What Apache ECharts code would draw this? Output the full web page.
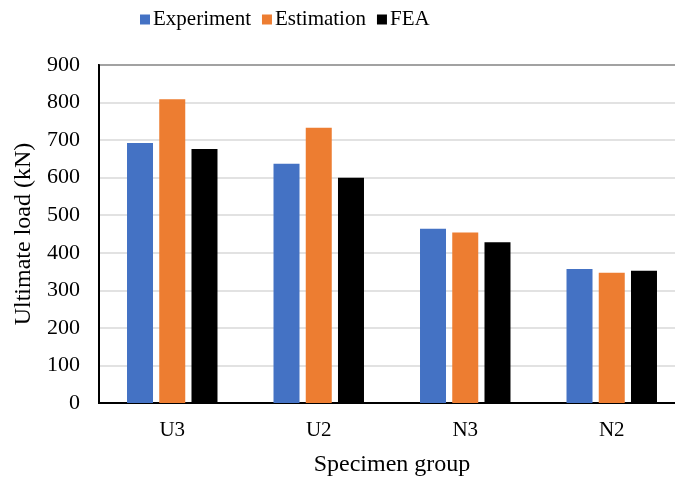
<!DOCTYPE html>
<html>
<head>
<meta charset="utf-8">
<script src="https://cdn.jsdelivr.net/npm/echarts@6/dist/echarts.min.js"></script>
<style>
  html, body { margin: 0; padding: 0; background: #fff; }
  #chart { width: 675px; height: 482px; }
</style>
</head>
<body>
<div id="chart"></div>
<script>
// Specimen groups and ultimate loads (kN)
const categories = ['U3', 'U2', 'N3', 'N2'];
const experiment = [692, 637, 464, 357];
const estimation = [809, 733, 454, 347];
const fea = [676, 600, 428, 352];
const seriesNames = ['Experiment', 'Estimation', 'FEA'];
const seriesColors = ['#4472C4', '#ED7D31', '#000000'];

const font = 'Liberation Serif, Times New Roman, serif';
const chart = echarts.init(document.getElementById('chart'));

const makeBar = (name, data, color) => ({
  name, type: 'bar', data,
  barWidth: 26, barGap: '24%',
  itemStyle: { color },
  emphasis: { disabled: true }
});

chart.setOption({
  animation: false,
  textStyle: { fontFamily: font },
  legend: {
    left: 135, top: 4,
    itemWidth: 10, itemHeight: 10, itemGap: 11,
    icon: 'rect',
    textStyle: { fontFamily: font, fontSize: 21, color: '#000', padding: [0, 0, 0, -2] },
    data: seriesNames
  },
  grid: {
    left: 99, top: 65, width: 586, height: 338,
    outerBoundsMode: 'none',
    show: true, borderColor: '#000', borderWidth: 2, containLabel: false
  },
  xAxis: {
    type: 'category', data: categories,
    name: 'Specimen group', nameLocation: 'middle', nameGap: 50,
    nameTextStyle: { fontFamily: font, fontSize: 24, color: '#000' },
    axisLine: { lineStyle: { color: '#000', width: 2 } },
    axisTick: { show: false },
    axisLabel: { fontFamily: font, fontSize: 21, color: '#000', margin: 17 }
  },
  yAxis: {
    type: 'value', min: 0, max: 900, interval: 100,
    name: 'Ultimate load (kN)', nameLocation: 'middle', nameGap: 63, nameRotate: 90,
    nameTextStyle: { fontFamily: font, fontSize: 24, color: '#000' },
    axisLine: { show: true, lineStyle: { color: '#000', width: 2 } },
    axisTick: { show: false },
    axisLabel: { fontFamily: font, fontSize: 22, color: '#000', margin: 19 },
    splitLine: { lineStyle: { color: '#d9d9d9', width: 1.5 } }
  },
  series: [
    makeBar(seriesNames[0], experiment, seriesColors[0]),
    makeBar(seriesNames[1], estimation, seriesColors[1]),
    makeBar(seriesNames[2], fea, seriesColors[2])
  ]
});
</script>
</body>
</html>
